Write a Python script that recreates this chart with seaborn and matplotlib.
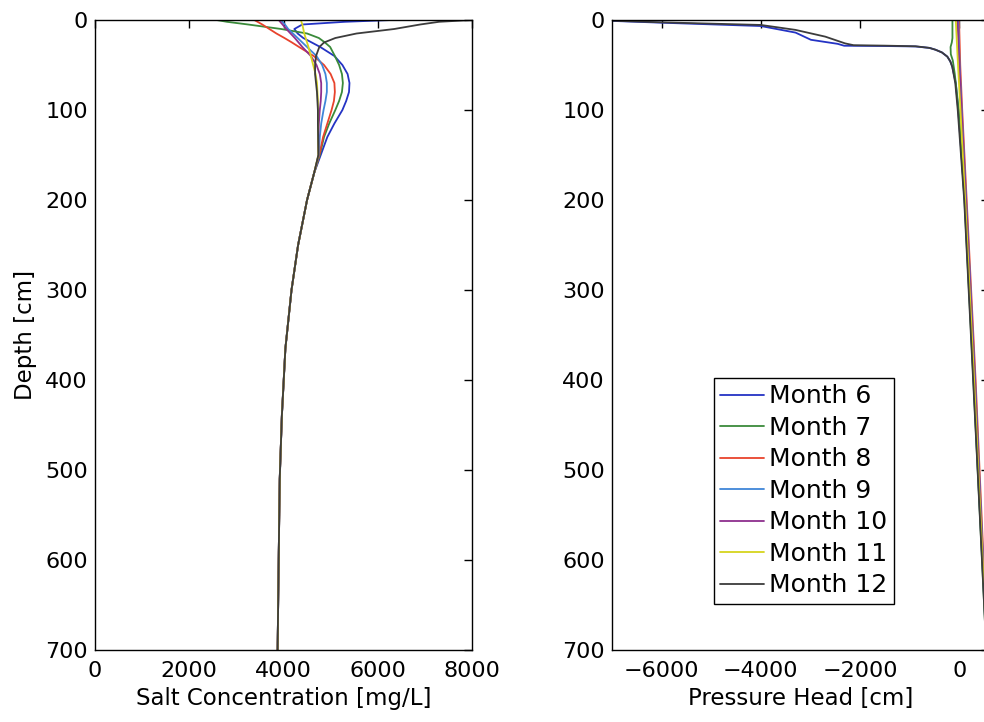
import matplotlib
matplotlib.use("Agg")
import matplotlib.pyplot as plt
import numpy as np
import pandas as pd
import seaborn as sns

# ---------------- data ----------------
months = ["Month 6", "Month 7", "Month 8", "Month 9", "Month 10", "Month 11", "Month 12"]
colors = ["#2433c4", "#3a8a3a", "#e8432c", "#3f86d8", "#8e2f8e", "#d6d41e", "#3c3c3c"]

# Salt concentration, upper part (per month)
salt_depth_top = [0, 2, 5, 10, 15, 20, 25, 30, 40, 50, 60, 70, 80, 90, 100, 115, 130, 150]
salt_m6 = [6300, 5300, 4400, 4230, 4300, 4420, 4600, 4780, 5080, 5250, 5360, 5400, 5390, 5330, 5250, 5080, 4930, 4790]
salt_m7 = [2580, 2800, 3250, 3950, 4500, 4750, 4880, 4990, 5090, 5180, 5240, 5260, 5240, 5180, 5100, 4970, 4860, 4770]
salt_m8 = [3380, 3450, 3550, 3700, 3850, 4020, 4180, 4330, 4640, 4860, 5000, 5080, 5090, 5070, 5020, 4930, 4840, 4760]
salt_m9 = [3950, 3980, 4030, 4100, 4200, 4300, 4400, 4500, 4700, 4820, 4890, 4920, 4920, 4890, 4850, 4800, 4770, 4750]
salt_m10 = [3900, 3930, 3980, 4060, 4150, 4240, 4320, 4400, 4580, 4700, 4770, 4800, 4800, 4790, 4770, 4750, 4740, 4745]
salt_m11 = [4370, 4380, 4400, 4420, 4440, 4470, 4500, 4530, 4580, 4630, 4680, 4710, 4720, 4730, 4730, 4730, 4735, 4740]
salt_m12 = [8000, 7300, 6900, 6350, 5550, 5100, 4860, 4760, 4690, 4670, 4670, 4690, 4710, 4720, 4730, 4730, 4735, 4740]
# Salt concentration, deep part (shared by all months)
salt_depth_deep = [170, 200, 250, 300, 365, 440, 510, 590, 700]
salt_deep = [4650, 4500, 4310, 4170, 4040, 3965, 3920, 3900, 3875]

# Pressure head profiles
ph_depth_m6 = [1, 3, 6.7, 14, 22, 26.5, 28.6, 28.9, 29.4, 31, 33, 36, 40.7, 46, 52, 70, 100, 200, 300, 400, 500, 600, 700]
ph_m6 = [-7000, -6000, -4000, -3300, -2990, -2450, -2320, -1500, -880, -600, -480, -350, -240, -180, -140, -70, -20, 110, 200, 290, 375, 465, 550]
ph_depth_m7 = [0, 20, 25, 30, 38, 45, 60, 100, 200, 300, 400, 500, 600, 700]
ph_m7 = [-137, -137, -150, -175, -170, -130, -90, -10, 105, 195, 285, 372, 460, 545]
ph_depth_m8 = [0, 50, 100, 200, 300, 400, 500, 600, 700]
ph_m8 = [-4, 20, 60, 150, 240, 330, 410, 490, 570]
ph_depth_m9 = [0, 50, 100, 200, 300, 400, 500, 600, 700]
ph_m9 = [-20, 8, 50, 140, 230, 320, 400, 482, 562]
ph_depth_m10 = [0, 50, 100, 200, 300, 400, 500, 600, 700]
ph_m10 = [-36, 3, 45, 135, 225, 315, 395, 478, 558]
ph_depth_m11 = [0, 50, 100, 200, 300, 400, 500, 600, 700]
ph_m11 = [-70, -25, 25, 120, 210, 300, 385, 472, 555]
ph_depth_m12 = [0.8, 2.6, 5.5, 11, 18.5, 26, 28, 28.5, 29.2, 31, 33, 36, 40.7, 46, 52, 70, 100, 200, 300, 400, 500, 600, 700]
ph_m12 = [-7000, -6000, -4000, -3300, -2700, -2300, -2130, -1500, -880, -600, -480, -350, -240, -180, -140, -80, -30, 100, 190, 280, 370, 458, 545]

# ---------------- tables ----------------
salt_tops = [salt_m6, salt_m7, salt_m8, salt_m9, salt_m10, salt_m11, salt_m12]
rows = []
for m, vals in zip(months, salt_tops):
    for d, v in zip(salt_depth_top + salt_depth_deep, vals + salt_deep):
        rows.append((m, v, d))
salt_df = pd.DataFrame(rows, columns=["Month", "value", "depth"])

ph_sets = [(ph_depth_m6, ph_m6), (ph_depth_m7, ph_m7), (ph_depth_m8, ph_m8), (ph_depth_m9, ph_m9),
           (ph_depth_m10, ph_m10), (ph_depth_m11, ph_m11), (ph_depth_m12, ph_m12)]
rows = []
for m, (ds, vs) in zip(months, ph_sets):
    for d, v in zip(ds, vs):
        rows.append((m, v, d))
ph_df = pd.DataFrame(rows, columns=["Month", "value", "depth"])

palette = dict(zip(months, colors))

# ---------------- figure ----------------
sns.set_theme(style="white")
plt.rcParams["font.family"] = ["DejaVu Sans"]
plt.rcParams["axes.unicode_minus"] = True
plt.rcParams["text.color"] = "black"
plt.rcParams["axes.labelcolor"] = "black"

W, H = 984, 722
fig = plt.figure(figsize=(W / 100, H / 100), dpi=100)
ax1 = fig.add_axes([95 / W, 1 - 650 / H, 377 / W, 630 / H])
ax2 = fig.add_axes([612 / W, 1 - 650 / H, 377 / W, 630 / H])

for ax, df in ((ax1, salt_df), (ax2, ph_df)):
    sns.lineplot(data=df, x="value", y="depth", hue="Month", hue_order=months,
                 palette=palette, estimator=None, sort=False, linewidth=1.3,
                 ax=ax, legend=(ax is ax2))

ax1.set_xlim(0, 8000)
ax1.set_xticks([0, 2000, 4000, 6000, 8000])
ax2.set_xlim(-7000, 600)
ax2.set_xticks([-6000, -4000, -2000, 0])
for ax in (ax1, ax2):
    ax.set_ylim(700, 0)
    ax.set_yticks(range(0, 701, 100))
    ax.tick_params(direction="in", length=6, width=1, top=True, right=True,
                   labelsize=16, colors="black")
    ax.tick_params(axis="x", pad=8)
    ax.tick_params(axis="y", pad=5)
    for s in ax.spines.values():
        s.set_color("black")
        s.set_linewidth(1.0)
        s.set_visible(True)

ax1.set_xlabel("Salt Concentration [mg/L]", fontsize=16.5, labelpad=4, color="black")
ax1.set_ylabel("Depth [cm]", fontsize=16.5, labelpad=6, color="black")
ax2.set_xlabel("Pressure Head [cm]", fontsize=16.5, labelpad=4, color="black")
ax2.set_ylabel("")

leg = ax2.legend(loc="upper left", bbox_to_anchor=(714 / W, 1 - 378 / H),
                 bbox_transform=fig.transFigure, borderaxespad=0, fontsize=18,
                 frameon=True, fancybox=False, framealpha=1, edgecolor="black",
                 labelspacing=0.3, handlelength=1.75, handletextpad=0.2,
                 borderpad=0.25)
leg.get_frame().set_linewidth(1.0)
for t in leg.get_texts():
    t.set_color("black")

fig.savefig("out.png", dpi=100)
